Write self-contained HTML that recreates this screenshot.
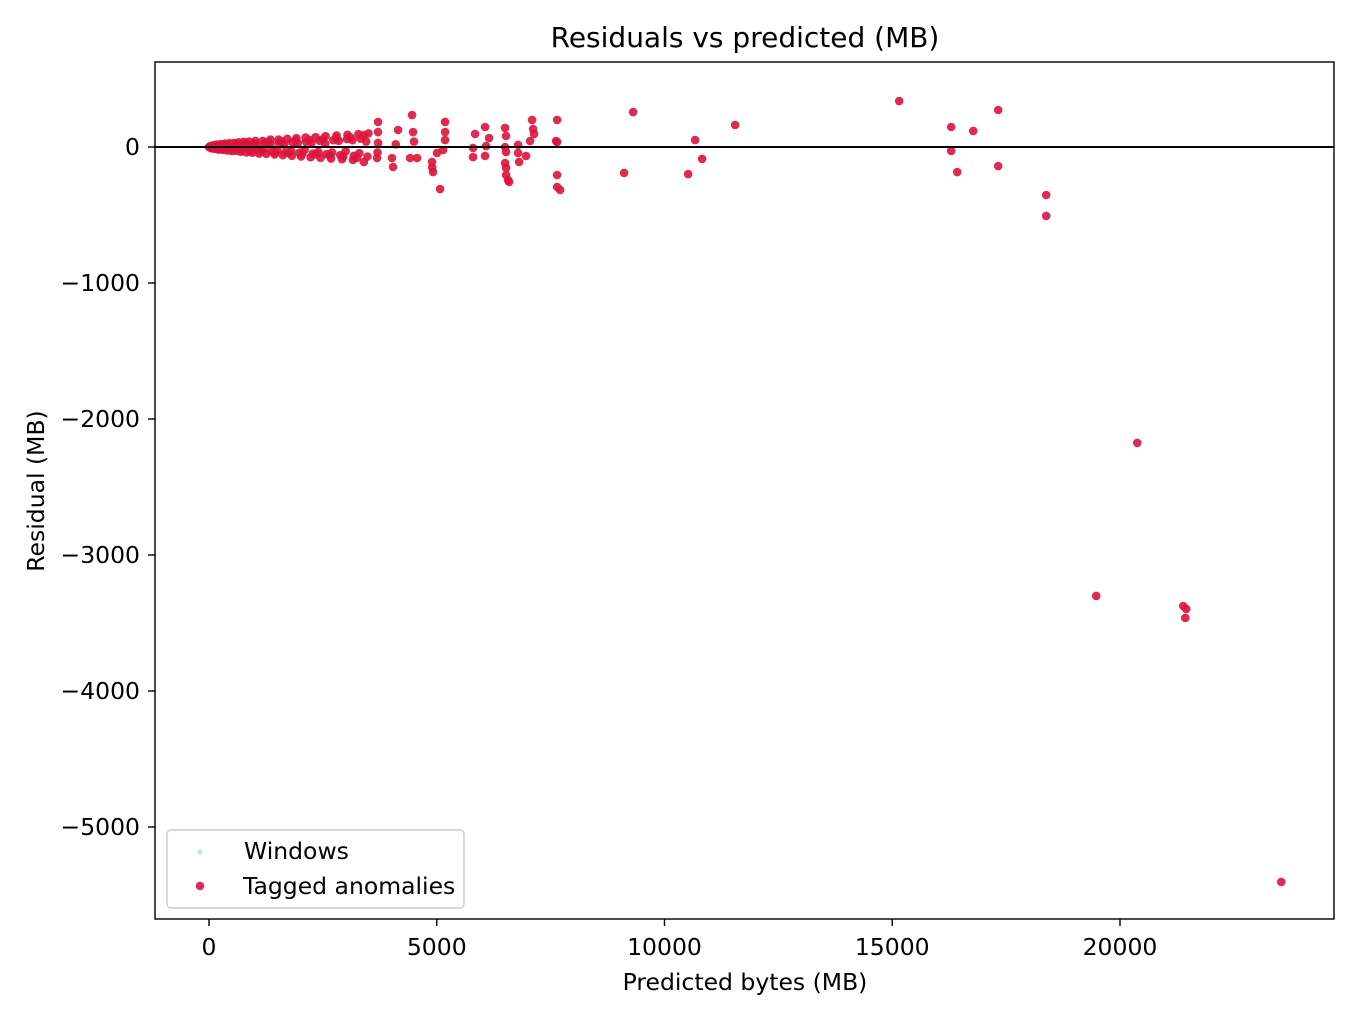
<!DOCTYPE html>
<html><head><meta charset="utf-8"><style>
html,body{margin:0;padding:0;background:#fff;width:1360px;height:1020px;overflow:hidden}
svg text{font-family:"DejaVu Sans","Liberation Sans",sans-serif;fill:#000}
</style></head><body>
<svg id="chart" width="1360" height="1020" xmlns="http://www.w3.org/2000/svg">
<rect x="0" y="0" width="1360" height="1020" fill="#fff"/>
<text x="745" y="47" font-size="28" text-anchor="middle">Residuals vs predicted (MB)</text>
<g id="marks"></g>
<line id="zl" x1="155" x2="1334" stroke="#000" stroke-width="2"/>
<rect x="155" y="62" width="1179" height="857" fill="none" stroke="#000" stroke-width="1.4"/>
<g id="xticks"></g>
<g id="yticks"></g>
<text x="745" y="990" font-size="23.5" text-anchor="middle">Predicted bytes (MB)</text>
<text transform="translate(44,491) rotate(-90)" font-size="23.5" text-anchor="middle">Residual (MB)</text>
<g>
<rect x="167" y="830" width="297" height="78" rx="4" fill="#fff" stroke="#ccc" stroke-width="1.4"/>
<circle cx="200" cy="852" r="2.8" fill="#c6dbef" opacity="0.8"/>
<text x="244" y="859" font-size="23.5">Windows</text>
<circle cx="200" cy="886" r="4.2" fill="#dc143c" opacity="0.9"/>
<text x="243" y="894" font-size="23.5">Tagged anomalies</text>
</g>
</svg>
<script>
const xTicks=[0,5000,10000,15000,20000];
const yTicks=[0,-1000,-2000,-3000,-4000,-5000];
const predX=[0,20,40,60,90,120,150,180,220,260,300,350,400,450,500,550,600,650,700,760,820,880,950,1020,1100,1180,1260,1350,1440,1530,1620,1720,1820,1920,2020,2120,2230,2340,2450,2560,2680,2800,2920,3040,3160,3280,3400,3500,
100,200,300,400,500,600,700,800,900,1000,1150,1300,1450,1600,1750,1900,2050,2200,2350,2500,2650,2800,2950,3100,3250,3400,
50,150,250,350,450,550,650,750,850,950,1050,1200,1350,1500,1650,1800,1950,2100,2250,2400,2550,2700,2850,3000,3150,3300,3450,
80,180,280,380,480,580,680,780,880,980,1080,1230,1380,1530,1680,1830,1980,2130,2280,2430,2580,2730,2880,3030,3180,3330,3480,
3711,3711,3689,3711,3700,4150,4040,4018,4100,4458,4480,4568,4414,4500,4919,4897,5007,5073,4900,5183,5183,5183,5139,
5841,5797,5797,6061,6149,6083,6061,6500,6522,6500,6522,6500,6522,6522,6566,6588,6786,6786,6808,6961,7049,7115,7137,7093,
7620,7642,7642,7642,7642,7708,9311,9113,10519,10673,10826,11551,
15152,16294,16294,16426,16778,17326,17326,18380,18380,19478,20379,21389,21455,21433,23541];
const residual=[0,5,-8,10,-12,15,-14,18,-20,22,-20,25,-25,28,-30,30,-28,35,-35,38,-40,40,-42,45,-48,45,-50,55,-55,55,-60,60,-65,65,-70,70,-75,72,-80,80,-85,85,-90,90,-95,95,-110,100,
-3,12,-15,20,-18,22,-25,28,-30,25,-35,38,-40,42,-45,48,-50,52,-55,58,-60,65,-70,72,-80,88,
2,-5,8,-10,6,-12,10,-8,14,-16,12,-18,20,-22,18,-25,28,-20,30,-35,25,-40,45,-30,50,-45,40,
-6,4,-3,12,-8,15,-20,18,-12,22,-28,25,-30,32,-38,35,-42,40,-48,45,-52,50,-60,58,-65,62,-70];
residual.push(184,110,-81,30,-40,125,-147,-81,20,235,110,-81,-81,40,-184,-110,-44,-309,-150,184,110,51,-22,
96,-7,-74,147,66,7,-66,140,81,0,-37,-118,-154,-206,-243,-257,15,-44,-110,-66,44,132,96,199,
44,37,199,-206,-294,-316,257,-191,-199,51,-88,162,
338,147,-29,-184,118,272,-140,-353,-507,-3301,-2176,-3375,-3397,-3463,-5404);
const X=v=>209+v*(911/20000);
const Y=v=>147-v*0.136;
const NS="http://www.w3.org/2000/svg";
const g=document.getElementById('marks');
for(let i=0;i<predX.length;i++){
  const c=document.createElementNS(NS,'circle');
  c.setAttribute('cx',X(predX[i]));c.setAttribute('cy',Y(residual[i]));
  c.setAttribute('r',4.3);c.setAttribute('fill','#dc143c');c.setAttribute('fill-opacity','0.9');
  
  
  g.appendChild(c);
}
const zl=document.getElementById('zl');zl.setAttribute('y1',Y(0));zl.setAttribute('y2',Y(0));
const xt=document.getElementById('xticks');
xTicks.forEach(t=>{
  const l=document.createElementNS(NS,'line');
  l.setAttribute('x1',X(t));l.setAttribute('x2',X(t));l.setAttribute('y1',919);l.setAttribute('y2',926);l.setAttribute('stroke','#000');l.setAttribute('stroke-width','1.4');
  
  
  xt.appendChild(l);
  const s=document.createElementNS(NS,'text');
  s.setAttribute('x',X(t));s.setAttribute('y',955);s.setAttribute('font-size','23.5');s.setAttribute('text-anchor','middle');
  s.textContent=t;
  
  
  xt.appendChild(s);
});
const yt=document.getElementById('yticks');
yTicks.forEach(t=>{
  const l=document.createElementNS(NS,'line');
  l.setAttribute('x1',148);l.setAttribute('x2',155);l.setAttribute('y1',Y(t));l.setAttribute('y2',Y(t));l.setAttribute('stroke','#000');l.setAttribute('stroke-width','1.4');
  
  
  yt.appendChild(l);
  const s=document.createElementNS(NS,'text');
  s.setAttribute('x',140);s.setAttribute('y',Y(t)+8);s.setAttribute('font-size','23.5');s.setAttribute('text-anchor','end');
  s.textContent=t<0?'\u2212'+Math.abs(t):String(t);
  
  
  yt.appendChild(s);
});
</script>
</body></html>
